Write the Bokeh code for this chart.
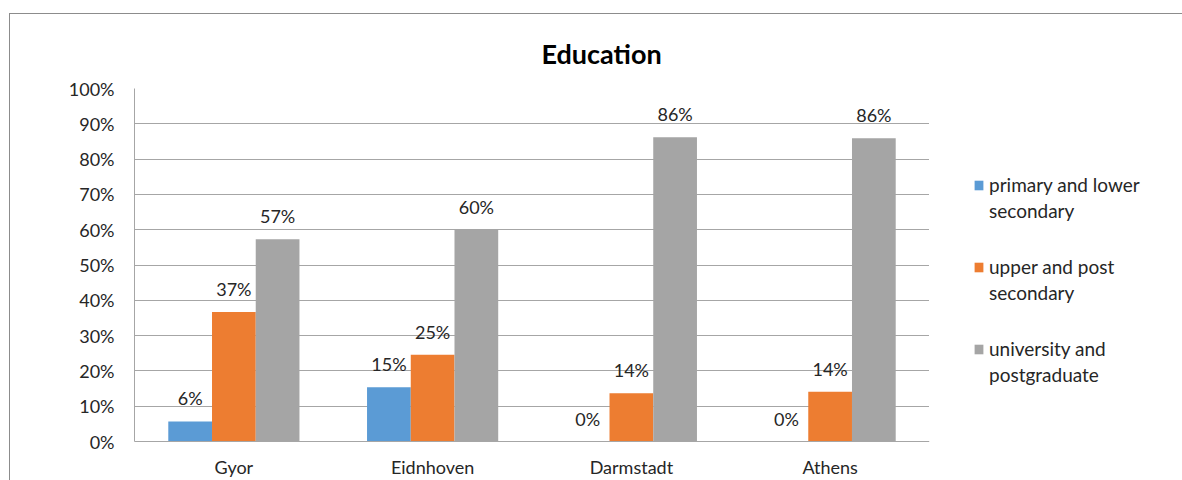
from bokeh.plotting import figure
from bokeh.layouts import row
from bokeh.models import (ColumnDataSource, FactorRange, NumeralTickFormatter, Legend, LegendItem,
                          FixedTicker, Range1d)
from bokeh.transform import dodge
from bokeh.core.properties import value
from bokeh.embed import file_html
from bokeh.resources import INLINE

cities = ["Gyor", "Eidnhoven", "Darmstadt", "Athens"]
series_lines = [["primary and lower", "secondary"],
                ["upper and post", "secondary"],
                ["university and", "postgraduate"]]
primary = [0.057, 0.154, 0.0, 0.0]
upper = [0.367, 0.246, 0.137, 0.141]
university = [0.573, 0.600, 0.862, 0.859]
colors = ["#5b9bd5", "#ed7d31", "#a5a5a5"]
y_ticks = [0, 0.1, 0.2, 0.3, 0.4, 0.5, 0.6, 0.7, 0.8, 0.9, 1.0]

FONT = "Lato"
TXT = "#262626"

H = 466
p = figure(x_range=FactorRange(factors=cities, range_padding=0), y_range=(0, 1),
           width=919, height=H, output_backend="svg", toolbar_location=None,
           min_border_left=124, min_border_right=0, min_border_top=74, min_border_bottom=38,
           title="Education")

p.title.text_font = FONT
p.title.text_font_size = "27px"
p.title.text_font_style = "bold"
p.title.text_color = "#000000"
p.title.align = "left"
p.title.offset = 407
p.title.standoff = 38

p.outline_line_color = None
p.xgrid.grid_line_color = None
p.ygrid.grid_line_color = "#a6a6a6"
p.ygrid.grid_line_width = 1
p.yaxis.ticker = FixedTicker(ticks=y_ticks)
p.yaxis.formatter = NumeralTickFormatter(format="0%")

for ax in (p.xaxis, p.yaxis):
    ax.axis_line_color = "#a6a6a6"
    ax.major_tick_line_color = None
    ax.minor_tick_line_color = None
    ax.major_tick_out = 0
    ax.major_tick_in = 0
    ax.major_label_text_font = FONT
    ax.major_label_text_font_size = "18px"
    ax.major_label_text_color = TXT
p.yaxis.major_label_standoff = 20
p.xaxis.major_label_standoff = 14

bw = 0.22
offsets = [-bw, 0.0, bw]
series = [primary, upper, university]

# legend holder figure
p2 = figure(width=253, height=H, output_backend="svg", toolbar_location=None,
            x_axis_type=None, y_axis_type=None, min_border=0,
            x_range=Range1d(0, 1), y_range=Range1d(0, 1))
p2.outline_line_color = None
p2.grid.visible = False
blank = p2.vbar(x=[-5], top=[-5], width=1, fill_alpha=0, line_alpha=0)

items = []
for i, (lines, vals, off, col) in enumerate(zip(series_lines, series, offsets, colors)):
    src = ColumnDataSource(dict(city=cities, val=vals, label=[f"{round(v*100):d}%" for v in vals]))
    p.vbar(x=dodge("city", off, range=p.x_range), top="val", width=bw, source=src,
           fill_color=col, line_color=None)
    p.text(x=dodge("city", off, range=p.x_range), y="val", text="label", source=src,
           y_offset=-23, text_align="center", text_baseline="alphabetic",
           text_font=value(FONT), text_font_size="18px", text_color=TXT)
    proxy = p2.vbar(x=[-5], top=[-5], width=1, fill_color=col, line_color=None)
    items.append(LegendItem(label=lines[0], renderers=[proxy]))
    items.append(LegendItem(label=lines[1], renderers=[blank]))
    if i < 2:
        items.append(LegendItem(label=" ", renderers=[blank]))
        items.append(LegendItem(label=" ", renderers=[blank]))

legend = Legend(items=items, location=(44, 55), orientation="vertical",
                glyph_width=11, glyph_height=12, label_standoff=5, spacing=3,
                padding=0, margin=0, border_line_color=None, background_fill_alpha=0,
                label_text_font=FONT, label_text_font_size="19px", label_text_color=TXT)
p2.add_layout(legend)

layout = row(p, p2)
layout.styles = {"margin-top": "13px", "margin-left": "9px",
                 "border-top": "1px solid #8c8c8c", "border-left": "1px solid #8c8c8c"}

open("out.html", "w").write(file_html(layout, INLINE))
